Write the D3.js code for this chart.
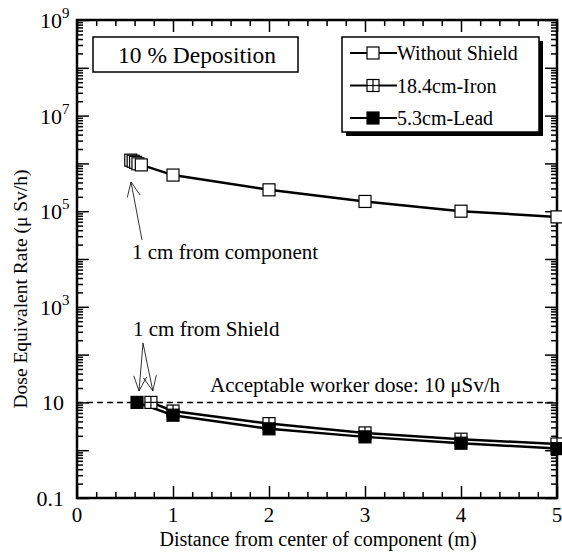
<!DOCTYPE html>
<html><head><meta charset="utf-8">
<script src="https://cdn.jsdelivr.net/npm/d3@7"></script>
<style>body{margin:0;background:#fff}svg{display:block}text{font-family:"Liberation Serif","Times New Roman",serif;fill:#000}</style>
</head><body>
<script>
// ---- data ----
const seriesNames = ["Without Shield", "18.4cm-Iron", "5.3cm-Lead"];
const noShieldX = [0.56, 0.585, 0.61, 0.635, 0.67, 1, 2, 3, 4, 5];
const noShieldY = [1.17e6, 1.11e6, 1.05e6, 0.98e6, 0.93e6, 5.7e5, 2.8e5, 1.6e5, 1.0e5, 7.6e4];
const ironX = [0.77, 1, 2, 3, 4, 5];
const ironY = [10, 6.6, 3.6, 2.3, 1.7, 1.35];
const leadX = [0.625, 1, 2, 3, 4, 5];
const leadY = [10, 5.4, 2.8, 1.9, 1.4, 1.08];
const xTickLabels = ["0", "1", "2", "3", "4", "5"];
const yLabelExp = [9, 7, 5, 3, 1, -1];
const limitDose = 10;

const W = 562, H = 554;
const svg = d3.select("body").append("svg").attr("width", W).attr("height", H);
const x = d3.scaleLinear().domain([0, 5]).range([77, 557]);
const y = d3.scaleLog().domain([0.1, 1e9]).range([498, 20]);
const [x0, x1] = x.range(), [y0, y1] = y.range();

// ---- ticks ----
const xMajor = d3.range(0, 5.001, 1);
const xMinor = d3.range(0, 5.001, 0.2).filter(v => Math.abs(v - Math.round(v)) > 1e-6);
const yMajor = d3.range(-1, 10).map(e => Math.pow(10, e));
const yMinor = [];
for (let e = -1; e < 9; e++) for (let m = 2; m <= 9; m++) yMinor.push(m * Math.pow(10, e));

function addAxis(gen, tx, ty, vals, size) {
  const g = svg.append("g").attr("transform", `translate(${tx},${ty})`)
    .call(gen.tickValues(vals).tickSize(size).tickSizeOuter(0).tickFormat(""));
  g.select(".domain").remove();
  g.selectAll("line").attr("stroke", "#000").attr("stroke-width", 1.5);
}
addAxis(d3.axisBottom(x), 0, y0, xMajor, -12);
addAxis(d3.axisBottom(x), 0, y0, xMinor, -6);
addAxis(d3.axisTop(x), 0, y1, xMajor, -12);
addAxis(d3.axisTop(x), 0, y1, xMinor, -6);
addAxis(d3.axisLeft(y), x0, 0, yMajor, -12);
addAxis(d3.axisLeft(y), x0, 0, yMinor, -6);
addAxis(d3.axisRight(y), x1, 0, yMajor, -12);
addAxis(d3.axisRight(y), x1, 0, yMinor, -6);

// frame
svg.append("rect").attr("x", x0).attr("y", y1).attr("width", x1 - x0).attr("height", y0 - y1)
  .attr("fill", "none").attr("stroke", "#000").attr("stroke-width", 2.5);

// tick labels
svg.append("g").selectAll("text").data(xTickLabels).join("text")
  .attr("x", (d, i) => x(xMajor[i])).attr("y", y0 + 24)
  .attr("text-anchor", "middle").attr("font-size", 21).text(d => d);

yLabelExp.forEach(e => {
  const yy = y(Math.pow(10, e)) + 8;
  if (e === 1) {
    svg.append("text").attr("x", 64).attr("y", yy).attr("text-anchor", "end").attr("font-size", 22).text("10");
  } else if (e === -1) {
    svg.append("text").attr("x", 64).attr("y", yy).attr("text-anchor", "end").attr("font-size", 22).text("0.1");
  } else {
    svg.append("text").attr("x", 62).attr("y", yy).attr("text-anchor", "end").attr("font-size", 22).text("10");
    svg.append("text").attr("x", 62).attr("y", yy - 10).attr("font-size", 15).text(String(e));
  }
});

// axis titles
svg.append("text").attr("x", 318).attr("y", 546).attr("text-anchor", "middle")
  .attr("font-size", 20).text("Distance from center of component (m)");
svg.append("text").attr("transform", `translate(27,${(y0 + y1) / 2 + 30}) rotate(-90)`)
  .attr("text-anchor", "middle").attr("font-size", 19.5).text("Dose Equivalent Rate (\u03bc Sv/h)");

// dashed limit line
svg.append("line").attr("x1", x0).attr("x2", x1).attr("y1", y(limitDose)).attr("y2", y(limitDose))
  .attr("stroke", "#000").attr("stroke-width", 1.5).attr("stroke-dasharray", "6,4");
svg.append("text").attr("x", 355).attr("y", y(limitDose) - 10).attr("text-anchor", "middle")
  .attr("font-size", 21).text("Acceptable worker dose: 10 \u03bcSv/h");

// ---- lines ----
const line = d3.line().x(d => x(d[0])).y(d => y(d[1]));
const series = [
  { name: seriesNames[0], pts: d3.zip(noShieldX, noShieldY), type: "open" },
  { name: seriesNames[1], pts: d3.zip(ironX, ironY), type: "cross" },
  { name: seriesNames[2], pts: d3.zip(leadX, leadY), type: "filled" }
];
series.forEach(s => {
  svg.append("path").attr("d", line(s.pts)).attr("fill", "none").attr("stroke", "#000").attr("stroke-width", 2.5);
});
const S = 12;
function marker(g, cx, cy, type) {
  g.append("rect").attr("x", cx - S / 2).attr("y", cy - S / 2).attr("width", S).attr("height", S)
    .attr("fill", type === "filled" ? "#000" : "#fff").attr("stroke", "#000").attr("stroke-width", 1.2);
  if (type === "cross") {
    g.append("line").attr("x1", cx).attr("x2", cx).attr("y1", cy - S / 2).attr("y2", cy + S / 2).attr("stroke", "#000").attr("stroke-width", 1.2);
    g.append("line").attr("x1", cx - S / 2).attr("x2", cx + S / 2).attr("y1", cy).attr("y2", cy).attr("stroke", "#000").attr("stroke-width", 1.2);
  }
}
series.forEach(s => {
  const g = svg.append("g");
  s.pts.forEach(p => marker(g, x(p[0]), y(p[1]), s.type));
});

// ---- annotations ----
function arrow(fx, fy, tx, ty) {
  const ax = x(fx), ay = y(fy), bx = x(tx), by = y(ty);
  const ang = Math.atan2(by - ay, bx - ax), L = 16, a = 0.42;
  const p = d3.path();
  p.moveTo(ax, ay); p.lineTo(bx, by);
  p.moveTo(bx - L * Math.cos(ang - a), by - L * Math.sin(ang - a)); p.lineTo(bx, by);
  p.lineTo(bx - L * Math.cos(ang + a), by - L * Math.sin(ang + a));
  svg.append("path").attr("d", p.toString()).attr("fill", "none").attr("stroke", "#000").attr("stroke-width", 0.8);
}
arrow(0.677, 2.5e4, 0.5625, 4.1e5);
svg.append("text").attr("x", 132).attr("y", y(2.5e4) + 19).attr("font-size", 21).text("1 cm from component");
arrow(0.6875, 174, 0.646, 17.4);
arrow(0.6875, 174, 0.79, 17.4);
svg.append("text").attr("x", 133).attr("y", y(174) - 7).attr("font-size", 21).text("1 cm from Shield");

// title box
svg.append("rect").attr("x", 93).attr("y", 37).attr("width", 205).attr("height", 35)
  .attr("fill", "#fff").attr("stroke", "#000").attr("stroke-width", 1.5);
svg.append("text").attr("x", 197).attr("y", 63).attr("text-anchor", "middle").attr("font-size", 23.5).text("10 % Deposition");

// legend
const lg = svg.append("g").attr("transform", "translate(342,37)");
lg.append("rect").attr("x", 4).attr("y", 4).attr("width", 197).attr("height", 95).attr("fill", "#000");
lg.append("rect").attr("x", 0).attr("y", 0).attr("width", 197).attr("height", 95)
  .attr("fill", "#fff").attr("stroke", "#000").attr("stroke-width", 1.5);
series.forEach((s, i) => {
  const cy = 16 + i * 32.5;
  lg.append("line").attr("x1", 8).attr("x2", 55).attr("y1", cy).attr("y2", cy).attr("stroke", "#000").attr("stroke-width", 2);
  marker(lg, 31, cy, s.type);
  lg.append("text").attr("x", 55).attr("y", cy + 7).attr("font-size", 20).text(s.name);
});
</script>
</body></html>
